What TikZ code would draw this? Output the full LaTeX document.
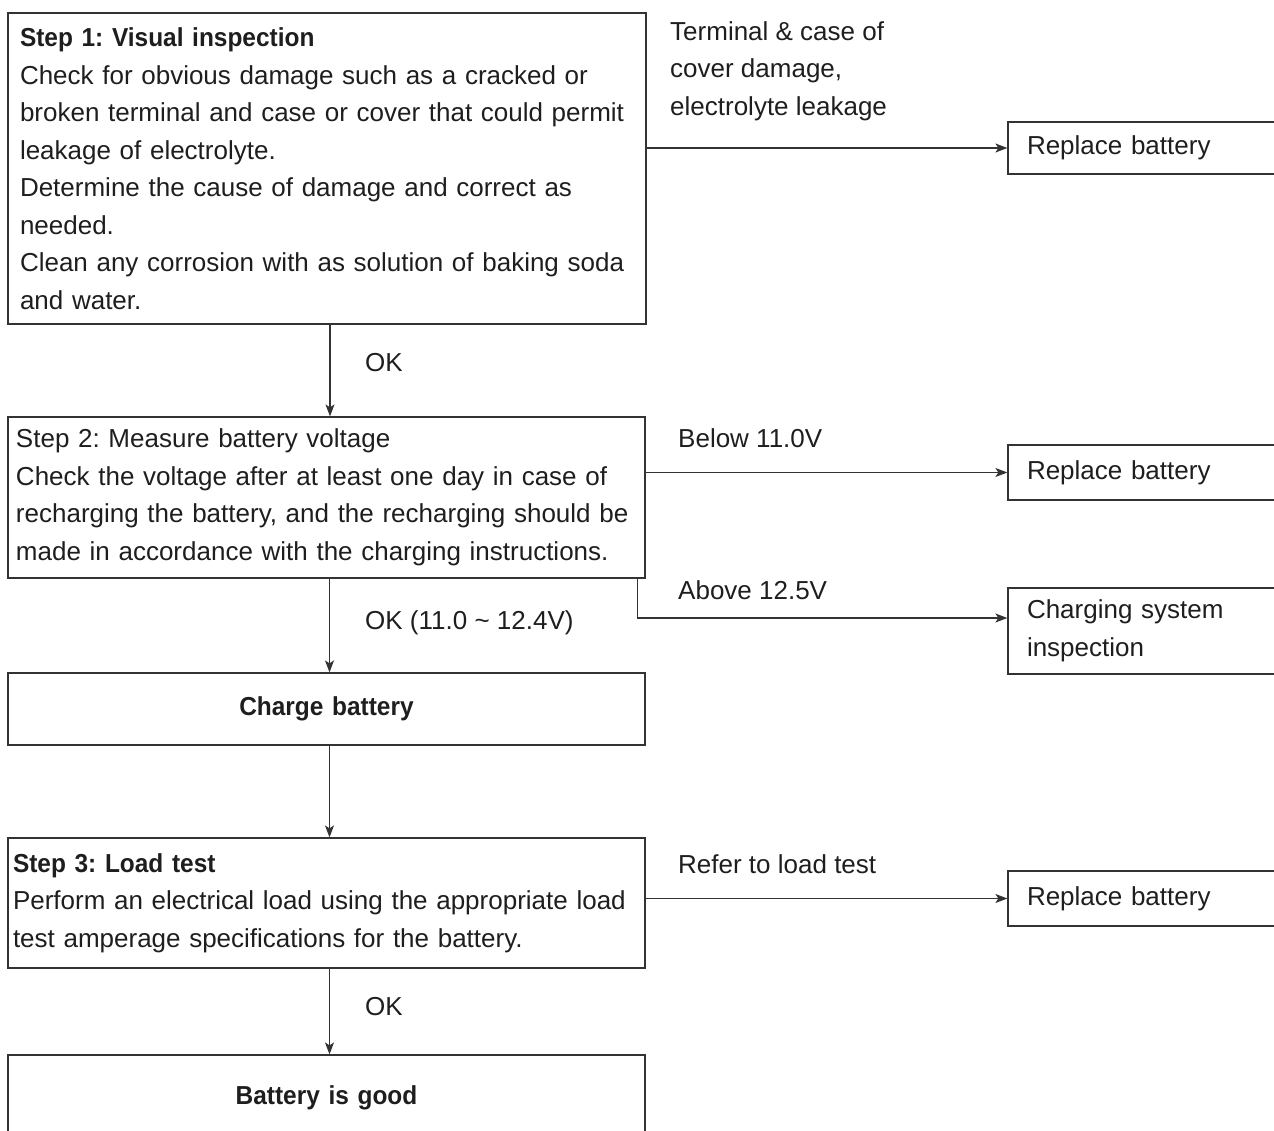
\documentclass[tikz,border=0pt]{standalone}
\usepackage{fontspec}
\setmainfont{Liberation Sans}
\newfontfamily\titlefont[FakeStretch=0.94]{Liberation Sans}
\usetikzlibrary{arrows.meta,calc}
\definecolor{linec}{HTML}{333333}
\definecolor{txt}{HTML}{1E1E1E}
\frenchspacing
\begin{document}
\begin{tikzpicture}[x=1pt,y=-1pt,
  font=\fontsize{26}{37.5}\selectfont\frenchspacing, text=txt,
  box/.style={draw=linec, line width=1.2pt, rectangle, inner ysep=0pt, align=left},
  rbox/.style={box, minimum width=300pt, text width=262pt, inner xsep=19pt},
  lbl/.style={inner sep=0pt, anchor=west, align=left},
  conn/.style={draw=linec, line width=1.2pt, -{Stealth[length=12pt,width=9pt,inset=3pt]}}]
\useasboundingbox (0,0) rectangle (1274,1131);
\clip (0,0) rectangle (1274,1131);

% main boxes
\node[box, minimum height=311pt, text width=614pt, inner xsep=12pt] (b1) at (327,168.5)
 {{\titlefont\bfseries Step 1: Visual inspection}\\
  Check for obvious damage such as a cracked or\\
  broken terminal and case or cover that could permit\\
  leakage of electrolyte.\\
  Determine the cause of damage and correct as\\
  needed.\\
  Clean any corrosion with as solution of baking soda\\
  and water.};
\node[box, minimum height=161pt, text width=621pt, inner xsep=8pt] (b2) at (326.5,497.5)
 {Step 2: Measure battery voltage\\
  Check the voltage after at least one day in case of\\
  recharging the battery, and the recharging should be\\
  made in accordance with the charging instructions.};
\node[box, minimum height=72pt, text width=621pt, inner xsep=8pt, align=center] (cb) at (326.5,709)
 {\titlefont\bfseries Charge battery};
\node[box, minimum height=130pt, text width=627pt, inner xsep=5pt] (b3) at (326.5,903)
 {{\titlefont\bfseries Step 3: Load test}\\
  Perform an electrical load using the appropriate load\\
  test amperage specifications for the battery.};
\node[box, minimum height=86pt, text width=621pt, inner xsep=8pt, align=center] (b4) at (326.5,1098)
 {\titlefont\bfseries Battery is good};

% right boxes
\node[rbox, minimum height=52pt] (r1) at (1158,148) {Replace battery};
\node[rbox, minimum height=55pt] (r2) at (1158,472.5) {Replace battery};
\node[rbox, minimum height=86pt] (cs) at (1158,631) {Charging system\\inspection};
\node[rbox, minimum height=55pt] (r3) at (1158,898.5) {Replace battery};

% labels
\node[lbl] (l1) at (670,71) {Terminal \& case of\\cover damage,\\electrolyte leakage};
\node[lbl] (l2) at (365,363) {OK};
\node[lbl] (l3) at (678,438) {Below 11.0V};
\node[lbl] (l4) at (678,590) {Above 12.5V};
\node[lbl] (l5) at (365,623) {OK (11.0 \textasciitilde{} 12.4V)};
\node[lbl] (l6) at (678,864) {Refer to load test};
\node[lbl] (l7) at (365,1007) {OK};

% connectors
\draw[conn] (b1.east |- r1.west) -- (r1.west);
\draw[conn] (b2.east |- r2.west) -- (r2.west);
\draw[conn] ([xshift=-8pt]b2.south east) |- ([yshift=13pt]cs.west);
\draw[conn] (b3.east |- r3.west) -- (r3.west);
\draw[conn] ([xshift=3pt]b1.south) -- ([xshift=3pt]b1.south |- b2.north);
\draw[conn] ([xshift=3pt]b2.south) -- ([xshift=3pt]b2.south |- cb.north);
\draw[conn] ([xshift=3pt]cb.south) -- ([xshift=3pt]cb.south |- b3.north);
\draw[conn] ([xshift=3pt]b3.south) -- ([xshift=3pt]b3.south |- b4.north);
\end{tikzpicture}
\end{document}
